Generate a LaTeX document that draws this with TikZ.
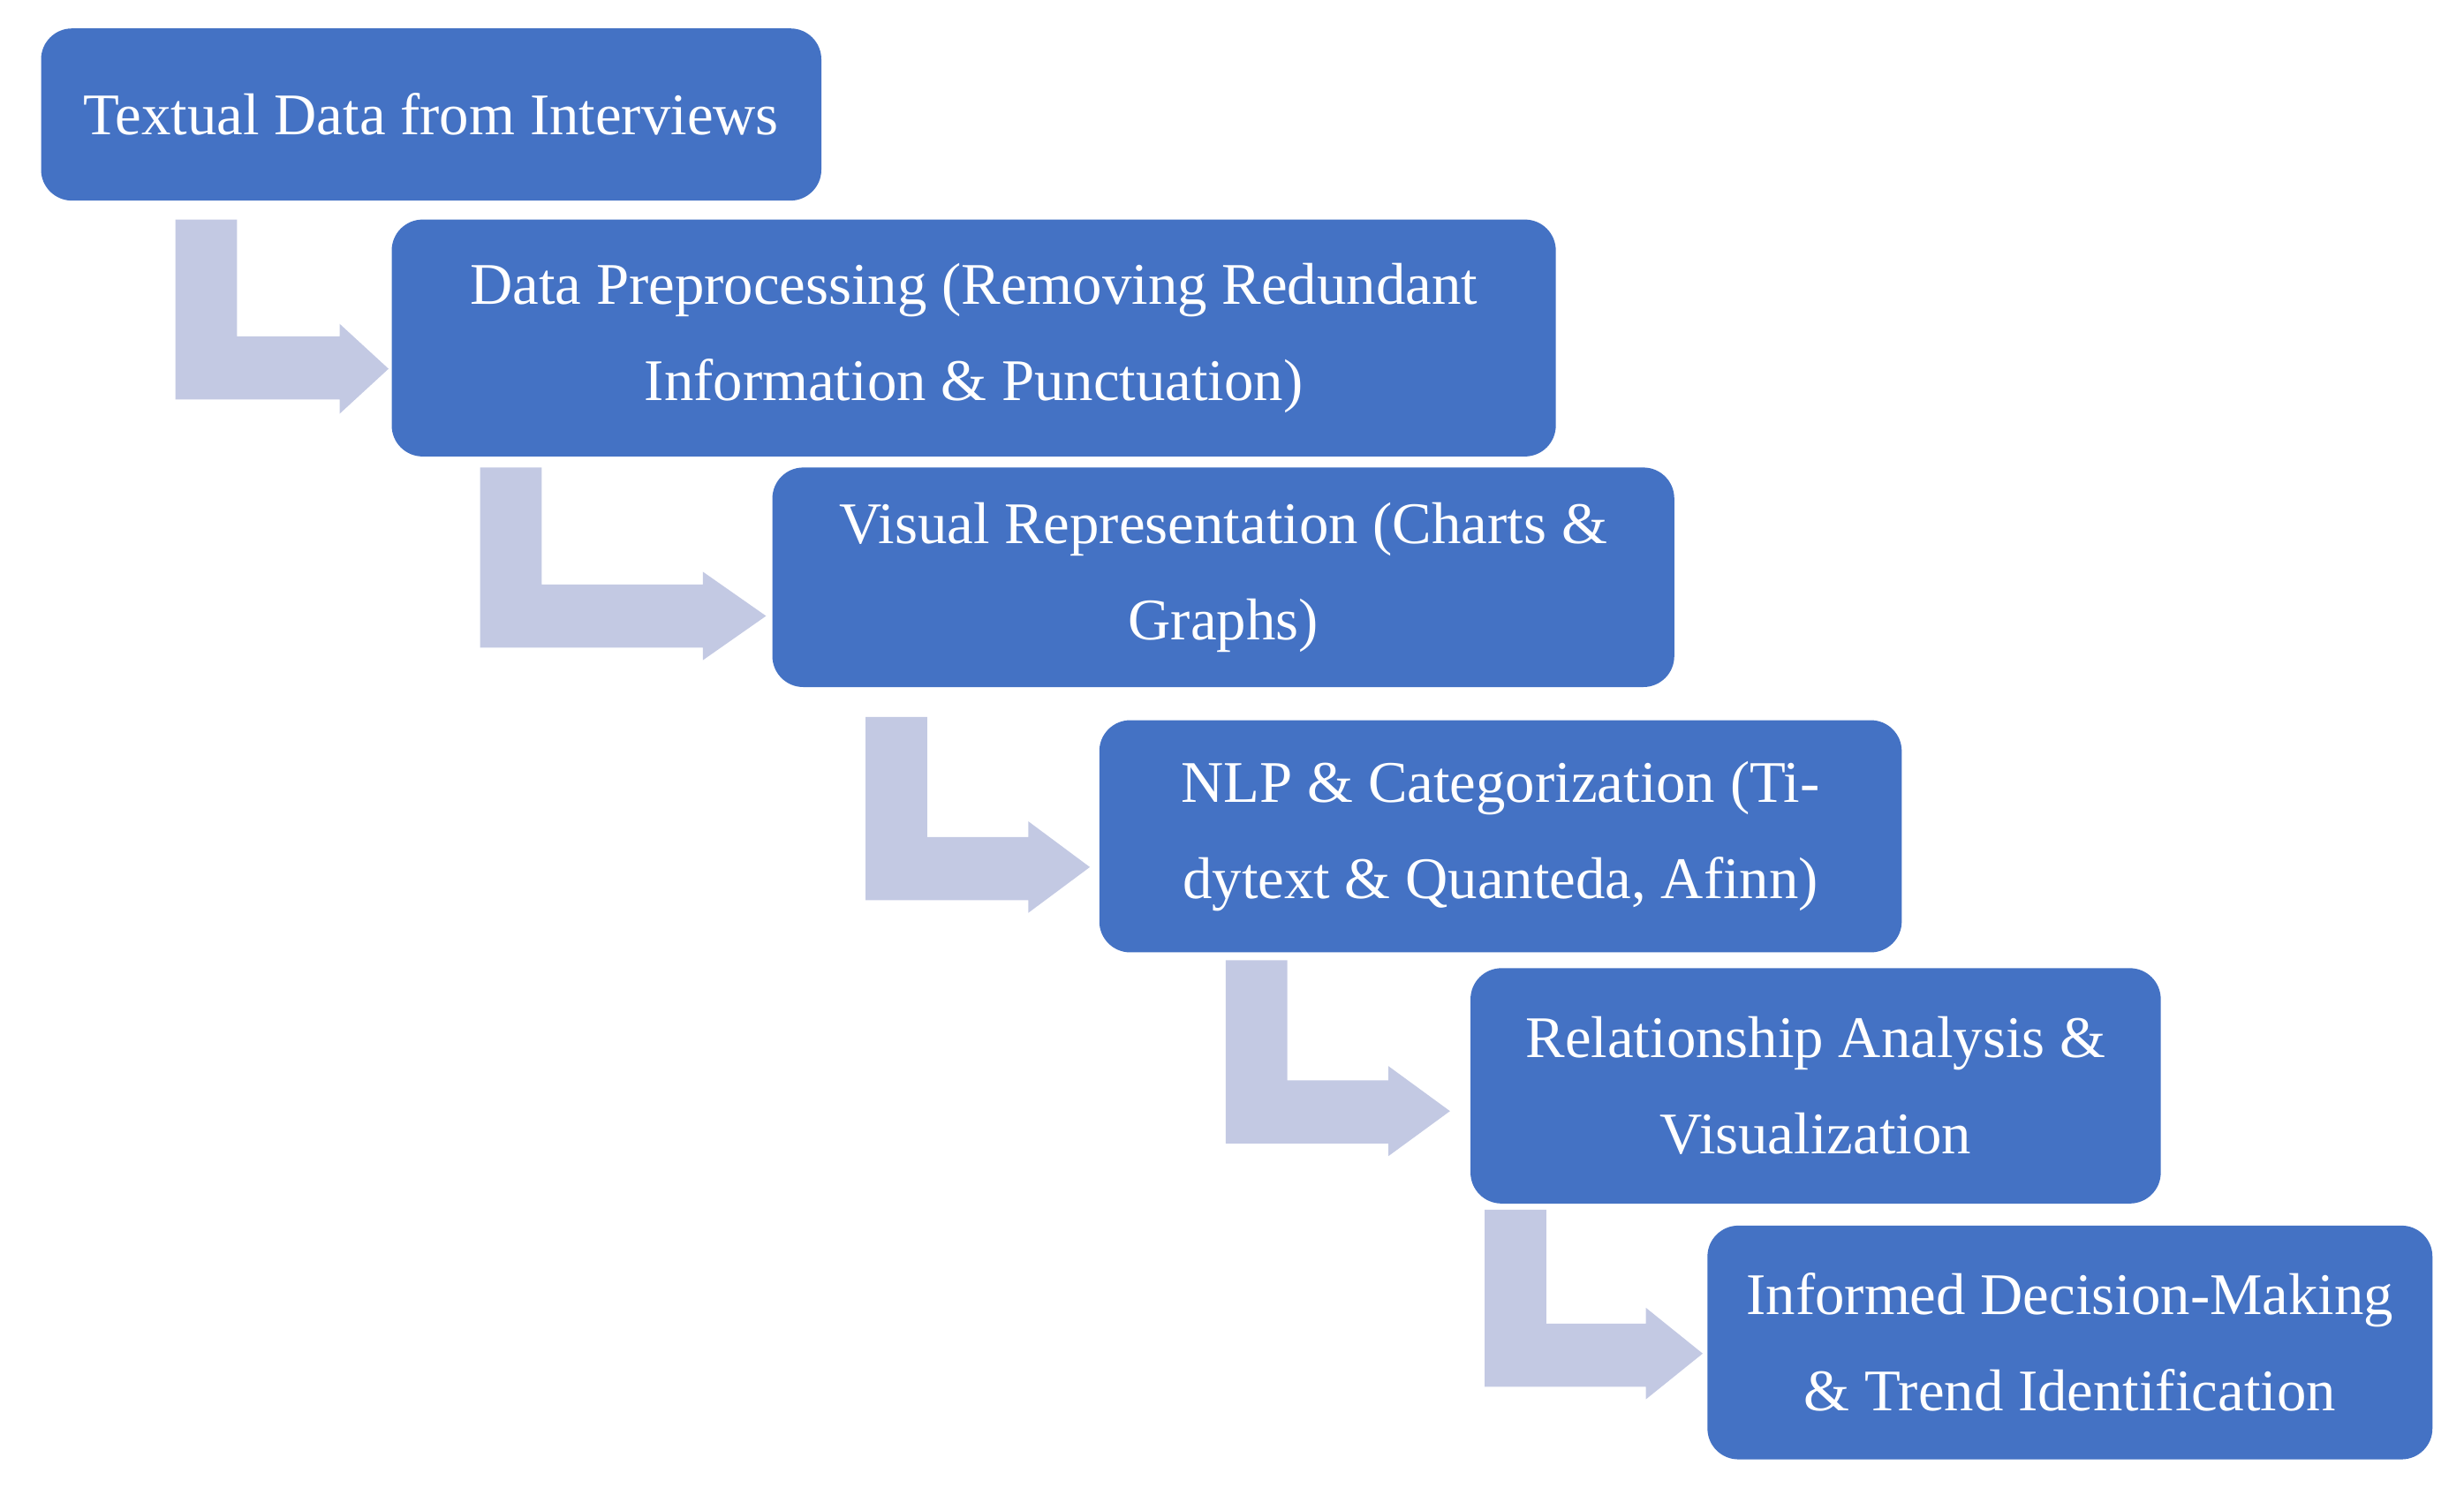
\documentclass[tikz,border=0pt]{standalone}
\usepackage{fontspec}
\setmainfont{Liberation Serif}
\begin{document}
\begin{tikzpicture}[x=0.017885cm,y=-0.017885cm,
 box/.style={fill=boxblue,draw=none,rounded corners=0.35cm,text=white,align=center,font=\fontsize{19}{31}\selectfont},
 arr/.style={fill=arrowlav,draw=none}]
\definecolor{boxblue}{HTML}{4472C4}
\definecolor{arrowlav}{HTML}{C3C9E3}
\useasboundingbox (0,0) rectangle (1560,942);
\newcommand\bx[6]{\path[box] (#2,#3) rectangle (#4,#5); \node[box,fill=none] (#1) at ({(#2+#4)/2},{(#3+#5)/2}) {#6};}
\bx{b1}{26}{18}{520}{127}{Textual Data from Interviews}
\bx{b2}{248}{139}{985}{289}{Data Preprocessing (Removing Redundant\\Information \& Punctuation)}
\bx{b3}{489}{296}{1060}{435}{Visual Representation (Charts \&\\Graphs)}
\bx{b4}{696}{456}{1204}{603}{NLP \& Categorization (Ti-\\dytext \& Quanteda, Afinn)}
\bx{b5}{931}{613}{1368}{762}{Relationship Analysis \&\\Visualization}
\bx{b6}{1081}{776}{1540}{924}{Informed Decision-Making\\\& Trend Identification}
\newcommand\ar[7]{% x1 y1 ytop-of-horiz x-head-start x-tip headtop headbottom
 \fill[arr] (#1,#2) -- ++(39,0) -- (#1+39,#3) -- (#4,#3) -- (#4,#6) -- (#5,{(#6+#7)/2}) -- (#4,#7) -- (#4,#3+40) -- (#1,#3+40) -- cycle;}
\ar{111}{139}{213}{215}{246}{205}{262}
\ar{304}{296}{370}{445}{485}{362}{418}
\ar{548}{454}{530}{651}{690}{520}{578}
\ar{776}{608}{684}{879}{918}{675}{732}
\ar{940}{766}{838}{1042}{1078}{828}{886}
\end{tikzpicture}
\end{document}
